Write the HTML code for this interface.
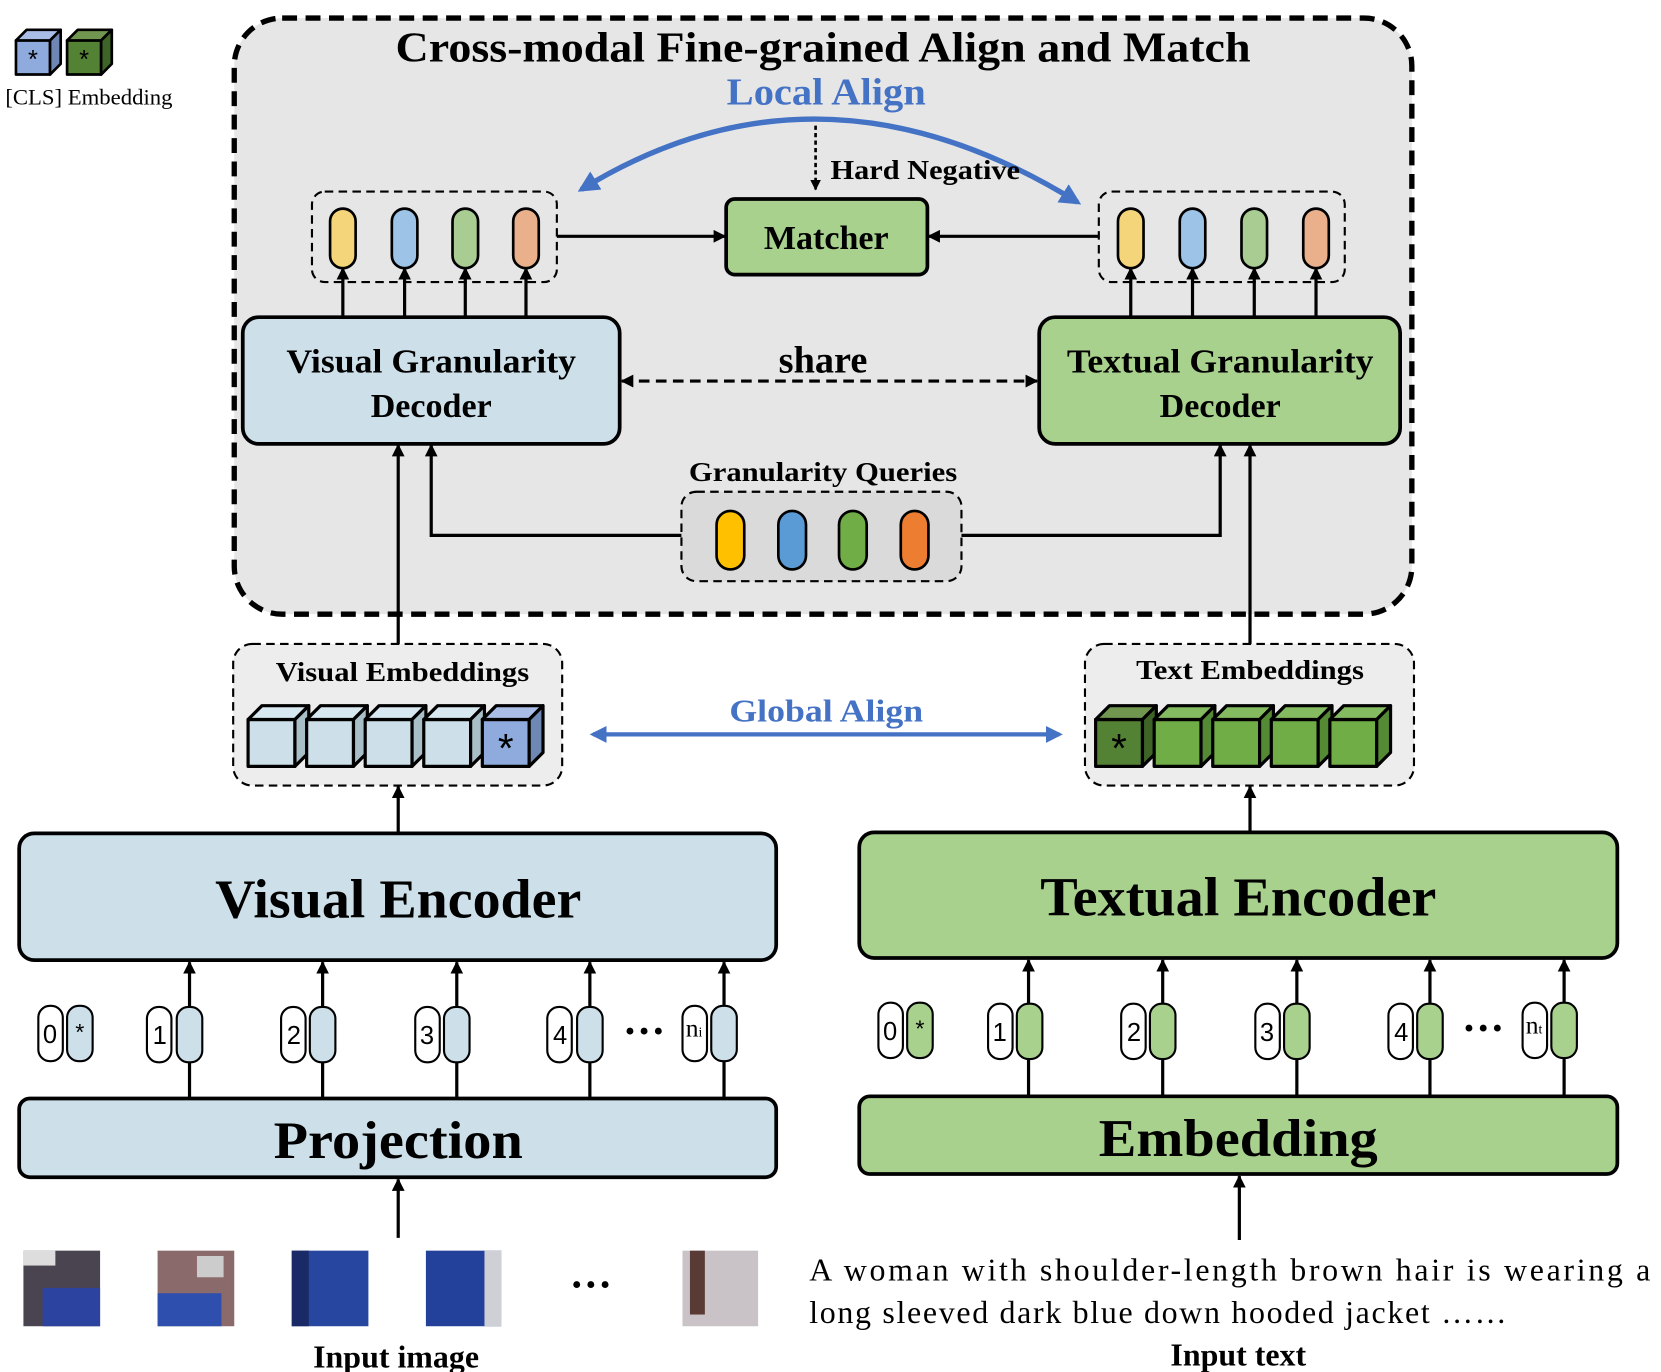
<!DOCTYPE html>
<html><head><meta charset="utf-8"><style>html,body{margin:0;padding:0;background:#fff}svg{display:block}</style></head>
<body>
<svg width="1661" height="1372" viewBox="0 0 1560 1289" preserveAspectRatio="none" xmlns="http://www.w3.org/2000/svg" font-family="Liberation Serif, serif">
<defs>
<marker id="ah" viewBox="0 0 10 10" refX="9" refY="5" markerWidth="4" markerHeight="4" orient="auto-start-reverse"><path d="M0,0 L10,5 L0,10 z" fill="#000"/></marker>
<marker id="ab" viewBox="0 0 10 10" refX="8" refY="5" markerWidth="4" markerHeight="4" orient="auto-start-reverse"><path d="M0,0 L10,5 L0,10 z" fill="#4472c4"/></marker>
</defs>
<!-- legend -->
<g stroke="#000" stroke-width="2.5" stroke-linejoin="round">
<rect x="15" y="38" width="32" height="32" fill="#8faadc"/><polygon points="15,38 25,28 57,28 47,38" fill="#a9bde6"/><polygon points="47,38 57,28 57,60 47,70" fill="#6f87b5"/>
<rect x="63" y="38" width="32" height="32" fill="#548235"/><polygon points="63,38 73,28 105,28 95,38" fill="#70964f"/><polygon points="95,38 105,28 105,60 95,70" fill="#3f6428"/>
</g>
<text x="31" y="64" font-size="24" text-anchor="middle" font-family="Liberation Sans">*</text>
<text x="79" y="64" font-size="24" text-anchor="middle" font-family="Liberation Sans">*</text>
<text x="5" y="98" font-size="21" textLength="157" lengthAdjust="spacingAndGlyphs">[CLS] Embedding</text>

<!-- outer box -->
<rect x="220" y="17" width="1106" height="560" rx="45" fill="#e6e6e6" stroke="#000" stroke-width="5" stroke-dasharray="14 8"/>
<text x="773" y="58" font-size="40" font-weight="bold" text-anchor="middle" textLength="803" lengthAdjust="spacingAndGlyphs">Cross-modal Fine-grained Align and Match</text>
<text x="776" y="98" font-size="36" font-weight="bold" fill="#4472c4" text-anchor="middle" textLength="187" lengthAdjust="spacingAndGlyphs">Local Align</text>
<path d="M546,178 Q770,40 1012,190" fill="none" stroke="#4472c4" stroke-width="5" marker-start="url(#ab)" marker-end="url(#ab)"/>
<line x1="766" y1="118" x2="766" y2="178" stroke="#000" stroke-width="2.5" stroke-dasharray="4 3" marker-end="url(#ah)"/>
<text x="780" y="168" font-size="26" font-weight="bold" textLength="178" lengthAdjust="spacingAndGlyphs">Hard Negative</text>

<!-- token groups -->
<rect x="293" y="180" width="230" height="85" rx="12" fill="none" stroke="#000" stroke-width="2" stroke-dasharray="8 5"/>
<rect x="1032" y="180" width="231" height="85" rx="12" fill="none" stroke="#000" stroke-width="2" stroke-dasharray="8 5"/>
<g stroke="#000" stroke-width="2.5">
<rect x="310" y="196" width="24" height="56" rx="12" fill="#f4d57a"/><rect x="368" y="196" width="24" height="56" rx="12" fill="#9dc3e6"/><rect x="425" y="196" width="24" height="56" rx="12" fill="#a9cc93"/><rect x="482" y="196" width="24" height="56" rx="12" fill="#eab08c"/>
<rect x="1050" y="196" width="24" height="56" rx="12" fill="#f4d57a"/><rect x="1108" y="196" width="24" height="56" rx="12" fill="#9dc3e6"/><rect x="1166" y="196" width="24" height="56" rx="12" fill="#a9cc93"/><rect x="1224" y="196" width="24" height="56" rx="12" fill="#eab08c"/>
</g>
<g stroke="#000" stroke-width="3" marker-end="url(#ah)">
<line x1="322" y1="298" x2="322" y2="252"/><line x1="380" y1="298" x2="380" y2="252"/><line x1="437" y1="298" x2="437" y2="252"/><line x1="494" y1="298" x2="494" y2="252"/>
<line x1="1062" y1="298" x2="1062" y2="252"/><line x1="1120" y1="298" x2="1120" y2="252"/><line x1="1178" y1="298" x2="1178" y2="252"/><line x1="1236" y1="298" x2="1236" y2="252"/>
<line x1="523" y1="222" x2="681" y2="222"/><line x1="1032" y1="222" x2="872" y2="222"/>
</g>
<rect x="682" y="187" width="189" height="71" rx="8" fill="#a9d18e" stroke="#000" stroke-width="3.5"/>
<text x="776" y="234" font-size="32" font-weight="bold" text-anchor="middle">Matcher</text>

<!-- decoders -->
<rect x="228" y="298" width="354" height="119" rx="15" fill="#cde0ea" stroke="#000" stroke-width="3.5"/>
<text x="405" y="350" font-size="32" font-weight="bold" text-anchor="middle" textLength="272" lengthAdjust="spacingAndGlyphs">Visual Granularity</text>
<text x="405" y="392" font-size="32" font-weight="bold" text-anchor="middle">Decoder</text>
<rect x="976" y="298" width="339" height="119" rx="15" fill="#a9d18e" stroke="#000" stroke-width="3.5"/>
<text x="1146" y="350" font-size="32" font-weight="bold" text-anchor="middle" textLength="288" lengthAdjust="spacingAndGlyphs">Textual Granularity</text>
<text x="1146" y="392" font-size="32" font-weight="bold" text-anchor="middle">Decoder</text>
<line x1="584" y1="358" x2="974" y2="358" stroke="#000" stroke-width="3" stroke-dasharray="10 6" marker-start="url(#ah)" marker-end="url(#ah)"/>
<text x="773" y="350" font-size="36" font-weight="bold" text-anchor="middle">share</text>

<!-- queries -->
<text x="773" y="452" font-size="26" font-weight="bold" text-anchor="middle" textLength="252" lengthAdjust="spacingAndGlyphs">Granularity Queries</text>
<rect x="640" y="462" width="263" height="84" rx="14" fill="#dadada" stroke="#000" stroke-width="2" stroke-dasharray="8 5"/>
<g stroke="#000" stroke-width="2.5">
<rect x="673" y="480" width="26" height="55" rx="13" fill="#ffc000"/><rect x="731" y="480" width="26" height="55" rx="13" fill="#5b9bd5"/><rect x="788" y="480" width="26" height="55" rx="13" fill="#70ad47"/><rect x="846" y="480" width="26" height="55" rx="13" fill="#ed7d31"/>
</g>
<g fill="none" stroke="#000" stroke-width="3" marker-end="url(#ah)">
<polyline points="640,503 405,503 405,418"/><polyline points="903,503 1146,503 1146,418"/>
<line x1="374" y1="605" x2="374" y2="418"/><line x1="1174" y1="605" x2="1174" y2="418"/>
<line x1="374" y1="782" x2="374" y2="739"/><line x1="1174" y1="781" x2="1174" y2="739"/>
</g>

<!-- embeddings -->
<rect x="219" y="605" width="309" height="133" rx="18" fill="#ededed" stroke="#000" stroke-width="2" stroke-dasharray="8 5"/>
<text x="378" y="640" font-size="26" font-weight="bold" text-anchor="middle" textLength="238" lengthAdjust="spacingAndGlyphs">Visual Embeddings</text>
<rect x="1019" y="605" width="309" height="133" rx="18" fill="#ededed" stroke="#000" stroke-width="2" stroke-dasharray="8 5"/>
<text x="1174" y="638" font-size="26" font-weight="bold" text-anchor="middle" textLength="214" lengthAdjust="spacingAndGlyphs">Text Embeddings</text>
<g stroke="#000" stroke-width="3" stroke-linejoin="round">
<g fill="#cde0ea"><rect x="233" y="676" width="44" height="44"/><polygon points="233,676 246,663 290,663 277,676" fill="#d8e8f0"/><polygon points="277,676 290,663 290,707 277,720" fill="#a9bfc8"/></g>
<g fill="#cde0ea"><rect x="288" y="676" width="44" height="44"/><polygon points="288,676 301,663 345,663 332,676" fill="#d8e8f0"/><polygon points="332,676 345,663 345,707 332,720" fill="#a9bfc8"/></g>
<g fill="#cde0ea"><rect x="343" y="676" width="44" height="44"/><polygon points="343,676 356,663 400,663 387,676" fill="#d8e8f0"/><polygon points="387,676 400,663 400,707 387,720" fill="#a9bfc8"/></g>
<g fill="#cde0ea"><rect x="398" y="676" width="44" height="44"/><polygon points="398,676 411,663 455,663 442,676" fill="#d8e8f0"/><polygon points="442,676 455,663 455,707 442,720" fill="#a9bfc8"/></g>
<g fill="#8faadc"><rect x="453" y="676" width="44" height="44"/><polygon points="453,676 466,663 510,663 497,676" fill="#a9bde6"/><polygon points="497,676 510,663 510,707 497,720" fill="#6f87b5"/></g>
<g fill="#548235"><rect x="1029" y="676" width="44" height="44"/><polygon points="1029,676 1042,663 1086,663 1073,676" fill="#70964f"/><polygon points="1073,676 1086,663 1086,707 1073,720" fill="#3f6428"/></g>
<g fill="#70ad47"><rect x="1084" y="676" width="44" height="44"/><polygon points="1084,676 1097,663 1141,663 1128,676" fill="#85bb60"/><polygon points="1128,676 1141,663 1141,707 1128,720" fill="#558a35"/></g>
<g fill="#70ad47"><rect x="1139" y="676" width="44" height="44"/><polygon points="1139,676 1152,663 1196,663 1183,676" fill="#85bb60"/><polygon points="1183,676 1196,663 1196,707 1183,720" fill="#558a35"/></g>
<g fill="#70ad47"><rect x="1194" y="676" width="44" height="44"/><polygon points="1194,676 1207,663 1251,663 1238,676" fill="#85bb60"/><polygon points="1238,676 1251,663 1251,707 1238,720" fill="#558a35"/></g>
<g fill="#70ad47"><rect x="1249" y="676" width="44" height="44"/><polygon points="1249,676 1262,663 1306,663 1293,676" fill="#85bb60"/><polygon points="1293,676 1306,663 1306,707 1293,720" fill="#558a35"/></g>
</g>
<text x="475" y="716" font-size="38" text-anchor="middle" font-family="Liberation Sans">*</text>
<text x="1051" y="716" font-size="38" text-anchor="middle" font-family="Liberation Sans">*</text>
<line x1="557" y1="690" x2="995" y2="690" stroke="#4472c4" stroke-width="4" marker-start="url(#ab)" marker-end="url(#ab)"/>
<text x="776" y="678" font-size="30" font-weight="bold" fill="#4472c4" text-anchor="middle" textLength="182" lengthAdjust="spacingAndGlyphs">Global Align</text>

<!-- encoders -->
<rect x="18" y="783" width="711" height="119" rx="14" fill="#cde0ea" stroke="#000" stroke-width="3.5"/>
<text x="374" y="862" font-size="52" font-weight="bold" text-anchor="middle" textLength="344" lengthAdjust="spacingAndGlyphs">Visual Encoder</text>
<rect x="807" y="782" width="712" height="118" rx="14" fill="#a9d18e" stroke="#000" stroke-width="3.5"/>
<text x="1163" y="860" font-size="52" font-weight="bold" text-anchor="middle" textLength="372" lengthAdjust="spacingAndGlyphs">Textual Encoder</text>
<rect x="18" y="1032" width="711" height="74" rx="10" fill="#cde0ea" stroke="#000" stroke-width="3.5"/>
<text x="374" y="1088" font-size="50" font-weight="bold" text-anchor="middle" textLength="234" lengthAdjust="spacingAndGlyphs">Projection</text>
<rect x="807" y="1030" width="712" height="73" rx="10" fill="#a9d18e" stroke="#000" stroke-width="3.5"/>
<text x="1163" y="1086" font-size="50" font-weight="bold" text-anchor="middle" textLength="262" lengthAdjust="spacingAndGlyphs">Embedding</text>

<g stroke="#000" stroke-width="3" marker-end="url(#ah)">
<line x1="178" y1="1032" x2="178" y2="904"/><line x1="303" y1="1032" x2="303" y2="904"/><line x1="429" y1="1032" x2="429" y2="904"/><line x1="554" y1="1032" x2="554" y2="904"/><line x1="680" y1="1032" x2="680" y2="904"/>
<line x1="966" y1="1030" x2="966" y2="902"/><line x1="1092" y1="1030" x2="1092" y2="902"/><line x1="1218" y1="1030" x2="1218" y2="902"/><line x1="1343" y1="1030" x2="1343" y2="902"/><line x1="1469" y1="1030" x2="1469" y2="902"/>
<line x1="374" y1="1163" x2="374" y2="1108"/><line x1="1164" y1="1165" x2="1164" y2="1105"/>
</g>
<!-- tokens -->
<g stroke="#000" stroke-width="2">
<rect x="36" y="945" width="23" height="52" rx="11" fill="#fff"/><rect x="63" y="945" width="24" height="52" rx="11" fill="#cde0ea"/>
<rect x="138" y="946" width="23" height="52" rx="11" fill="#fff"/><rect x="166" y="946" width="24" height="52" rx="11" fill="#cde0ea"/>
<rect x="264" y="946" width="23" height="52" rx="11" fill="#fff"/><rect x="291" y="946" width="24" height="52" rx="11" fill="#cde0ea"/>
<rect x="390" y="946" width="23" height="52" rx="11" fill="#fff"/><rect x="417" y="946" width="24" height="52" rx="11" fill="#cde0ea"/>
<rect x="514" y="946" width="23" height="52" rx="11" fill="#fff"/><rect x="542" y="946" width="24" height="52" rx="11" fill="#cde0ea"/>
<rect x="641" y="945" width="23" height="52" rx="11" fill="#fff"/><rect x="668" y="945" width="24" height="52" rx="11" fill="#cde0ea"/>
<rect x="825" y="942" width="23" height="52" rx="11" fill="#fff"/><rect x="852" y="942" width="24" height="52" rx="11" fill="#a9d18e"/>
<rect x="928" y="943" width="23" height="52" rx="11" fill="#fff"/><rect x="955" y="943" width="24" height="52" rx="11" fill="#a9d18e"/>
<rect x="1053" y="943" width="23" height="52" rx="11" fill="#fff"/><rect x="1080" y="943" width="24" height="52" rx="11" fill="#a9d18e"/>
<rect x="1179" y="943" width="23" height="52" rx="11" fill="#fff"/><rect x="1206" y="943" width="24" height="52" rx="11" fill="#a9d18e"/>
<rect x="1304" y="943" width="23" height="52" rx="11" fill="#fff"/><rect x="1331" y="943" width="24" height="52" rx="11" fill="#a9d18e"/>
<rect x="1430" y="942" width="23" height="52" rx="11" fill="#fff"/><rect x="1457" y="942" width="24" height="52" rx="11" fill="#a9d18e"/>
</g>
<g font-family="Liberation Sans" font-size="24" text-anchor="middle">
<text x="47" y="980">0</text><text x="75" y="977" font-size="22">*</text>
<text x="150" y="981">1</text><text x="276" y="981">2</text><text x="401" y="981">3</text><text x="526" y="981">4</text>
<text x="836" y="977">0</text><text x="864" y="974" font-size="22">*</text>
<text x="939" y="978">1</text><text x="1065" y="978">2</text><text x="1190" y="978">3</text><text x="1316" y="978">4</text>
</g>
<text x="644" y="974" font-size="24">n<tspan font-size="13">i</tspan></text>
<text x="1433" y="971" font-size="24">n<tspan font-size="13">t</tspan></text>
<text x="605" y="982" font-size="40" font-weight="bold" text-anchor="middle">···</text>
<text x="1393" y="979" font-size="40" font-weight="bold" text-anchor="middle">···</text>

<!-- images -->
<rect x="22" y="1175" width="72" height="71" fill="#4a4350"/><rect x="40" y="1210" width="54" height="36" fill="#2c44a0"/><rect x="22" y="1175" width="30" height="14" fill="#ddd"/>
<rect x="148" y="1175" width="72" height="71" fill="#8a6a6a"/><rect x="148" y="1215" width="60" height="31" fill="#2f4fae"/><rect x="185" y="1180" width="25" height="20" fill="#ccc"/>
<rect x="274" y="1175" width="72" height="71" fill="#2746a0"/><rect x="274" y="1175" width="16" height="71" fill="#1a2a66"/>
<rect x="400" y="1175" width="71" height="71" fill="#23409a"/><rect x="455" y="1175" width="16" height="71" fill="#cfcfd6"/>
<rect x="641" y="1175" width="71" height="71" fill="#c9c2c6"/><rect x="648" y="1175" width="14" height="60" fill="#5a3a35"/>
<text x="555" y="1220" font-size="40" font-weight="bold" text-anchor="middle">···</text>
<text x="372" y="1285" font-size="30" font-weight="bold" text-anchor="middle">Input image</text>
<text x="760" y="1203" font-size="30" textLength="790" lengthAdjust="spacing">A woman with shoulder-length brown hair is wearing  a</text>
<text x="760" y="1243" font-size="30" textLength="655" lengthAdjust="spacing">long sleeved dark blue down hooded jacket ……</text>
<text x="1163" y="1283" font-size="30" font-weight="bold" text-anchor="middle">Input text</text>
</svg>
</body></html>
